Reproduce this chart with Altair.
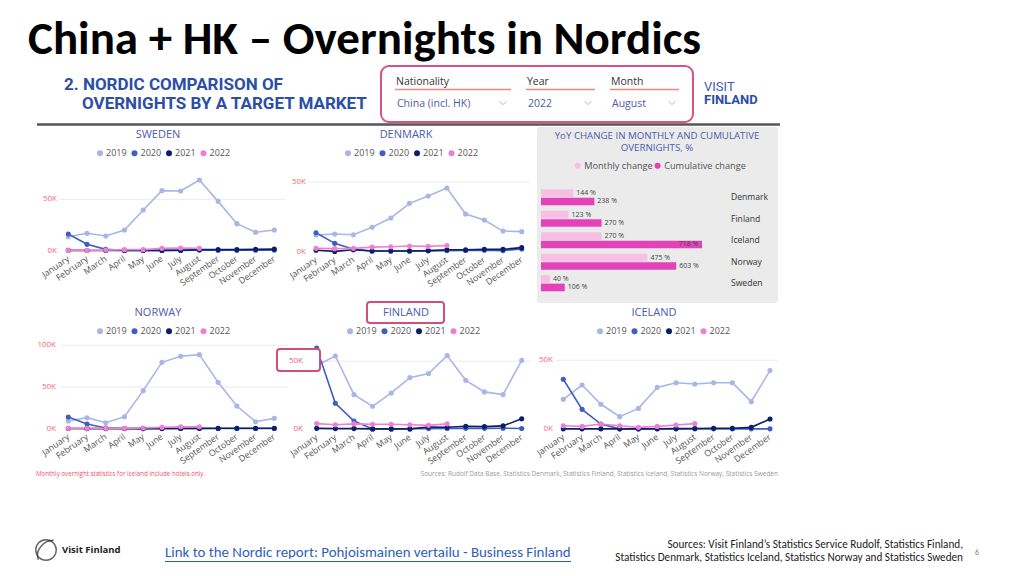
import altair as alt
import pandas as pd

M = 8  # page margin of the html page
FONT = "Open Sans"
TITLE_FONT = "Carlito, Lato, sans-serif"
HEAD_FONT = "Roboto"

MONTHS = ["January", "February", "March", "April", "May", "June", "July",
          "August", "September", "October", "November", "December"]
YEARS = ["2019", "2020", "2021", "2022"]
YEAR_COLORS = ["#a8b6e7", "#3f5ec0", "#0b1e6c", "#f07fd2"]

# overnights, thousands
SWEDEN_2019 = [13.6, 16.9, 14.3, 20.1, 39.6, 58.4, 58.1, 68.8, 48.0, 26.3, 17.9, 20.1]
SWEDEN_2020 = [16.2, 6.2, 1.3, 0.3, 0.3, 0.3, 0.3, 0.6, 0.5, 0.4, 0.4, 0.6]
SWEDEN_2021 = [0.3, 0.2, 0.2, 0.2, 0.2, 0.3, 0.4, 1.0, 1.0, 1.0, 1.3, 1.5]
SWEDEN_2022 = [0.3, 0.3, 0.6, 1.0, 1.0, 2.3, 2.6, 2.3]

DENMARK_2019 = [12.0, 12.7, 12.2, 17.5, 24.2, 34.7, 40.0, 45.7, 27.0, 22.7, 14.8, 14.4]
DENMARK_2020 = [13.6, 6.0, 1.7, 0.5, 0.5, 0.5, 0.6, 0.8, 0.9, 1.0, 0.8, 1.9]
DENMARK_2021 = [1.0, 0.2, 1.4, 0.5, 0.5, 0.5, 0.8, 1.4, 1.4, 1.7, 1.7, 2.9]
DENMARK_2022 = [2.4, 2.2, 2.4, 3.3, 3.6, 4.1, 3.8, 4.5]

NORWAY_2019 = [9.2, 13.2, 7.2, 14.4, 45.6, 79.6, 86.8, 88.8, 55.6, 27.2, 8.4, 12.4]
NORWAY_2020 = [14.0, 5.6, 0.8, 0.2, 0.1, 0.1, 0.2, 0.3, 0.3, 0.3, 0.3, 0.3]
NORWAY_2021 = [0.2, 0.1, 0.1, 0.1, 0.1, 0.2, 0.3, 0.4, 0.5, 0.5, 0.6, 0.6]
NORWAY_2022 = [0.4, 0.4, 0.4, 0.4, 0.8, 1.6, 2.4, 2.4]

FINLAND_2019 = [47.0, 53.9, 25.5, 16.9, 26.7, 38.0, 41.0, 54.2, 36.0, 27.5, 25.5, 50.7]
FINLAND_2020 = [59.8, 19.1, 6.1, 0.3, 0.3, 0.4, 0.5, 0.6, 0.7, 0.7, 0.8, 0.6]
FINLAND_2021 = [0.7, 0.5, 0.5, 0.3, 0.3, 0.3, 1.7, 1.5, 2.2, 2.0, 2.5, 7.8]
FINLAND_2022 = [4.2, 3.3, 4.0, 3.7, 3.7, 3.3, 2.9, 4.0]

ICELAND_2019 = [21.6, 32.0, 18.0, 9.0, 15.0, 30.3, 33.7, 32.8, 33.7, 33.7, 19.9, 42.5]
ICELAND_2020 = [36.2, 14.3, 3.6, 0.1, 0.1, 0.1, 0.1, 0.1, 0.1, 0.1, 0.1, 0.1]
ICELAND_2021 = [0.1, 0.1, 0.1, 0.1, 0.1, 0.2, 0.3, 0.4, 0.5, 0.5, 1.2, 7.3]
ICELAND_2022 = [2.4, 1.9, 3.6, 2.4, 1.2, 1.9, 2.9, 3.9]

COUNTRIES = ["Denmark", "Finland", "Iceland", "Norway", "Sweden"]
CHANGE_TYPES = ["Monthly change", "Cumulative change"]
CHANGE_COLORS = ["#f8bfe4", "#e343b8"]
MONTHLY_CHANGE = [144, 123, 270, 475, 40]
CUMULATIVE_CHANGE = [238, 270, 718, 603, 106]


def one():
    return pd.DataFrame({"a": [0]})


def text(s, x, y, size, color, font=FONT, weight="normal", align="left", baseline="middle"):
    return alt.Chart(pd.DataFrame({"t": [s]})).mark_text(
        align=align, baseline=baseline, fontSize=size, color=color, font=font, fontWeight=weight
    ).encode(x=alt.value(x - M), y=alt.value(y - M), text="t:N")


def rect(x1, y1, x2, y2, fill="white", stroke=None, sw=0, r=0):
    kw = dict(fill=fill, cornerRadius=r)
    if stroke:
        kw.update(stroke=stroke, strokeWidth=sw)
    return alt.Chart(one()).mark_rect(**kw).encode(
        x=alt.value(x1 - M), x2=alt.value(x2 - M), y=alt.value(y1 - M), y2=alt.value(y2 - M))


def hline(x1, x2, y, color, sw):
    return alt.Chart(one()).mark_rule(color=color, strokeWidth=sw).encode(
        x=alt.value(x1 - M), x2=alt.value(x2 - M), y=alt.value(y - M))


def long_df(series):
    rows = []
    for year, vals in zip(YEARS, series):
        for m, v in zip(MONTHS, vals):
            rows.append({"month": m, "year": year, "value": v})
    return pd.DataFrame(rows)


def panel(name, series, x0, x1, y0, yref, ref, ticks, tick_x, grid, title_xy, legend_xy,
          tick_color="#f26b6b"):
    df = long_df(series)
    xsc = alt.Scale(type="point", domain=MONTHS, range=[x0 - M, x1 - M], padding=0)
    ysc = alt.Scale(type="linear", domain=[0, ref], range=[y0 - M, yref - M], nice=False, zero=False)
    X = alt.X("month:N", scale=xsc, axis=None)
    legend = alt.Legend(orient="none", legendX=legend_xy[0] - M, legendY=legend_xy[1] - M,
                        direction="horizontal", title=None, symbolType="circle", symbolSize=36,
                        labelFontSize=9, labelFont=FONT, labelColor="#555", columnPadding=2.5,
                        labelOffset=1.5, padding=0, symbolStrokeWidth=0)
    base = alt.Chart(df).encode(
        X,
        alt.Y("value:Q", scale=ysc, axis=None),
        alt.Color("year:N", scale=alt.Scale(domain=YEARS, range=YEAR_COLORS), legend=legend),
    )
    lines = base.mark_line(strokeWidth=1.6)
    pts = base.mark_circle(size=26, opacity=1)
    grid_df = pd.DataFrame({"v": [t for t in ticks if t > 0]})
    gridl = alt.Chart(grid_df).mark_rule(color="#ebebeb", strokeWidth=1).encode(
        y=alt.Y("v:Q", scale=ysc, axis=None), x=alt.value(grid[0] - M), x2=alt.value(grid[1] - M))
    tick_df = pd.DataFrame({"v": ticks, "label": [f"{t}K" for t in ticks]})
    tl = alt.Chart(tick_df).mark_text(align="right", baseline="middle", fontSize=8,
                                      color=tick_color, font=FONT).encode(
        y=alt.Y("v:Q", scale=ysc, axis=None), x=alt.value(tick_x - M), text="label:N")
    ml = alt.Chart(pd.DataFrame({"month": MONTHS})).mark_text(
        align="right", baseline="middle", angle=325, fontSize=8.8, color="#555", font=FONT
    ).encode(x=X, y=alt.value(y0 - M + 7), text="month:N")
    title = text(name, title_xy[0], title_xy[1], 11, "#4a5cae", align="center")
    return alt.layer(gridl, lines, pts, tl, ml, title)


layers = []

# slide title
layers.append(text("China + HK – Overnights in Nordics", 28, 53.5, 47, "#000000",
                   font=TITLE_FONT, weight="bold", baseline="alphabetic"))

# dashboard header
layers.append(text("2. NORDIC COMPARISON OF", 64, 85, 17, "#2b4ea6", font=HEAD_FONT, weight="bold"))
layers.append(text("OVERNIGHTS BY A TARGET MARKET", 82, 104, 17, "#2b4ea6", font=HEAD_FONT, weight="bold"))
layers.append(rect(381, 66, 693, 122, fill="white", stroke="#d9537e", sw=2, r=8))
for lab, val, lx, ux2, cx in [("Nationality", "China (incl. HK)", 396, 511, 503),
                              ("Year", "2022", 527, 595, 588),
                              ("Month", "August", 611, 679, 672)]:
    layers.append(text(lab, lx, 82, 10.5, "#333333"))
    layers.append(hline(lx - 1, ux2, 89.5, "#f08585", 1.5))
    layers.append(text(val, lx + 1, 104, 10.5, "#4a5cae"))
    layers.append(alt.Chart(one()).mark_point(
        shape="M -1 -0.5 L 0 0.5 L 1 -0.5", filled=False, size=45, stroke="#999999", strokeWidth=1
    ).encode(x=alt.value(cx - M), y=alt.value(103 - M)))
layers.append(text("VISIT", 704, 87, 13, "#3d5cb5", font=HEAD_FONT))
layers.append(text("FINLAND", 704, 100, 13, "#2b4ea6", font=HEAD_FONT, weight="bold"))
layers.append(hline(37, 780, 124.5, "#555555", 2.5))

# line panels
layers.append(panel("SWEDEN", [SWEDEN_2019, SWEDEN_2020, SWEDEN_2021, SWEDEN_2022],
                    68.3, 274.3, 250.7, 199.3, 50, [0, 50], 57, (60, 285), (158, 135), (95.5, 148.5)))
layers.append(panel("DENMARK", [DENMARK_2019, DENMARK_2020, DENMARK_2021, DENMARK_2022],
                    316, 521.7, 251.7, 182, 50, [0, 50], 306, (309, 530), (406, 135), (343.5, 148.5)))
layers.append(panel("NORWAY", [NORWAY_2019, NORWAY_2020, NORWAY_2021, NORWAY_2022],
                    68.3, 274.3, 428.7, 345.3, 100, [0, 50, 100], 56, (60, 288), (158, 313), (95.5, 326.5)))

# Finland title highlight box (behind title)
layers.append(rect(367, 302, 444, 323, fill="white", stroke="#d24f7d", sw=2, r=3))
layers.append(panel("FINLAND", [FINLAND_2019, FINLAND_2020, FINLAND_2021, FINLAND_2022],
                    316.7, 521.7, 429.3, 361.3, 50, [0, 50], 303, (306, 530), (406, 313), (345.5, 326.5),
                    tick_color="#e8607a"))
layers.append(panel("ICELAND", [ICELAND_2019, ICELAND_2020, ICELAND_2021, ICELAND_2022],
                    563.3, 770, 429, 360.3, 50, [0, 50], 553, (556, 778), (654, 313), (595.5, 326.5)))
# Finland 50K highlight box
layers.append(rect(277, 349, 320, 371, fill="white", stroke="#d24f7d", sw=2, r=3))
layers.append(text("50K", 303, 361, 8, "#e8607a", align="right"))

# bar chart panel
layers.append(rect(537, 127, 778, 303, fill="#ebebeb", r=3))
layers.append(text("YoY CHANGE IN MONTHLY AND CUMULATIVE", 657, 136, 9.7, "#4a5cae", align="center"))
layers.append(text("OVERNIGHTS, %", 657, 148, 9.7, "#4a5cae", align="center"))

bar_rows = []
for c, mv, cv in zip(COUNTRIES, MONTHLY_CHANGE, CUMULATIVE_CHANGE):
    bar_rows.append({"country": c, "type": CHANGE_TYPES[0], "value": mv, "label": f"{mv} %"})
    bar_rows.append({"country": c, "type": CHANGE_TYPES[1], "value": cv, "label": f"{cv} %"})
bar_df = pd.DataFrame(bar_rows)

bysc = alt.Scale(type="band", domain=COUNTRIES, range=[189.3 - M, 291.3 - M],
                 paddingInner=0.256, paddingOuter=0)
bxsc = alt.Scale(domain=[0, 718], range=[541 - M, 702 - M], nice=False, zero=True)
BY = alt.Y("country:N", scale=bysc, axis=None)
BX = alt.X("value:Q", scale=bxsc, axis=None)
BYO = alt.YOffset("type:N", scale=alt.Scale(domain=CHANGE_TYPES, paddingInner=0.08))
bar_legend = alt.Legend(orient="none", legendX=573 - M, legendY=161 - M, direction="horizontal",
                        title=None, symbolType="circle", symbolSize=36, labelFontSize=9.2,
                        labelFont=FONT, labelColor="#555", columnPadding=0, labelOffset=2,
                        padding=0, symbolStrokeWidth=0)
bars = alt.Chart(bar_df).mark_bar().encode(
    BX, BY, BYO,
    alt.Color("type:N", scale=alt.Scale(domain=CHANGE_TYPES, range=CHANGE_COLORS), legend=bar_legend))
out_labels = alt.Chart(bar_df).transform_filter("datum.value < 700").mark_text(
    align="left", baseline="middle", dx=3, fontSize=7, color="#444", font=FONT
).encode(BX, BY, BYO, text="label:N")
in_labels = alt.Chart(bar_df).transform_filter("datum.value >= 700").mark_text(
    align="right", baseline="middle", dx=-4, fontSize=7, color="#444", font=FONT
).encode(BX, BY, BYO, text="label:N")
country_labels = alt.Chart(pd.DataFrame({"country": COUNTRIES})).mark_text(
    align="left", baseline="middle", fontSize=8.6, color="#333", font=FONT
).encode(y=BY, x=alt.value(731 - M), text="country:N")
layers.append(alt.layer(bars, out_labels, in_labels, country_labels))

# footnotes of dashboard
layers.append(text("Monthly overnight statistics for Iceland include hotels only.", 36, 474, 6.2, "#f0506a"))
layers.append(text("Sources: Rudolf Data Base, Statistics Denmark, Statistics Finland, Statistics Iceland, "
                   "Statistics Norway, Statistics Sweden", 778, 474, 6.5, "#999999", align="right"))

# slide footer
layers.append(alt.Chart(one()).mark_point(shape="circle", filled=False, size=420, stroke="#222",
                                          strokeWidth=1.4).encode(x=alt.value(46 - M), y=alt.value(550 - M)))
layers.append(alt.Chart(one()).mark_point(shape="M -0.75 0.95 C -1.1 0.1 -0.3 -0.95 0.75 -0.95",
                                          filled=False, size=420, stroke="#222", strokeWidth=1.4
                                          ).encode(x=alt.value(46 - M), y=alt.value(550 - M)))
layers.append(text("Visit Finland", 62, 550, 9.5, "#222222", weight="bold"))
layers.append(text("Link to the Nordic report: Pohjoismainen vertailu - Business Finland", 165, 553, 14.9,
                   "#2e5fb8", font=TITLE_FONT))
layers.append(hline(165, 571, 561.5, "#2e5fb8", 1))
layers.append(text("Sources: Visit Finland’s Statistics Service Rudolf, Statistics Finland,", 963, 545, 11.2,
                   "#222222", font=TITLE_FONT, align="right"))
layers.append(text("Statistics Denmark, Statistics Iceland, Statistics Norway and Statistics Sweden", 963, 558, 11.2,
                   "#222222", font=TITLE_FONT, align="right"))
layers.append(text("6", 975, 553, 7.5, "#777777", font=TITLE_FONT))

chart = alt.layer(*layers).resolve_scale(
    x="independent", y="independent", color="independent", yOffset="independent"
).properties(
    width=1008, height=560, padding=0, autosize=alt.AutoSizeParams(type="none"), background="white"
).configure_view(strokeWidth=0)

chart.save("out.html", embed_options={"renderer": "svg", "actions": False})
